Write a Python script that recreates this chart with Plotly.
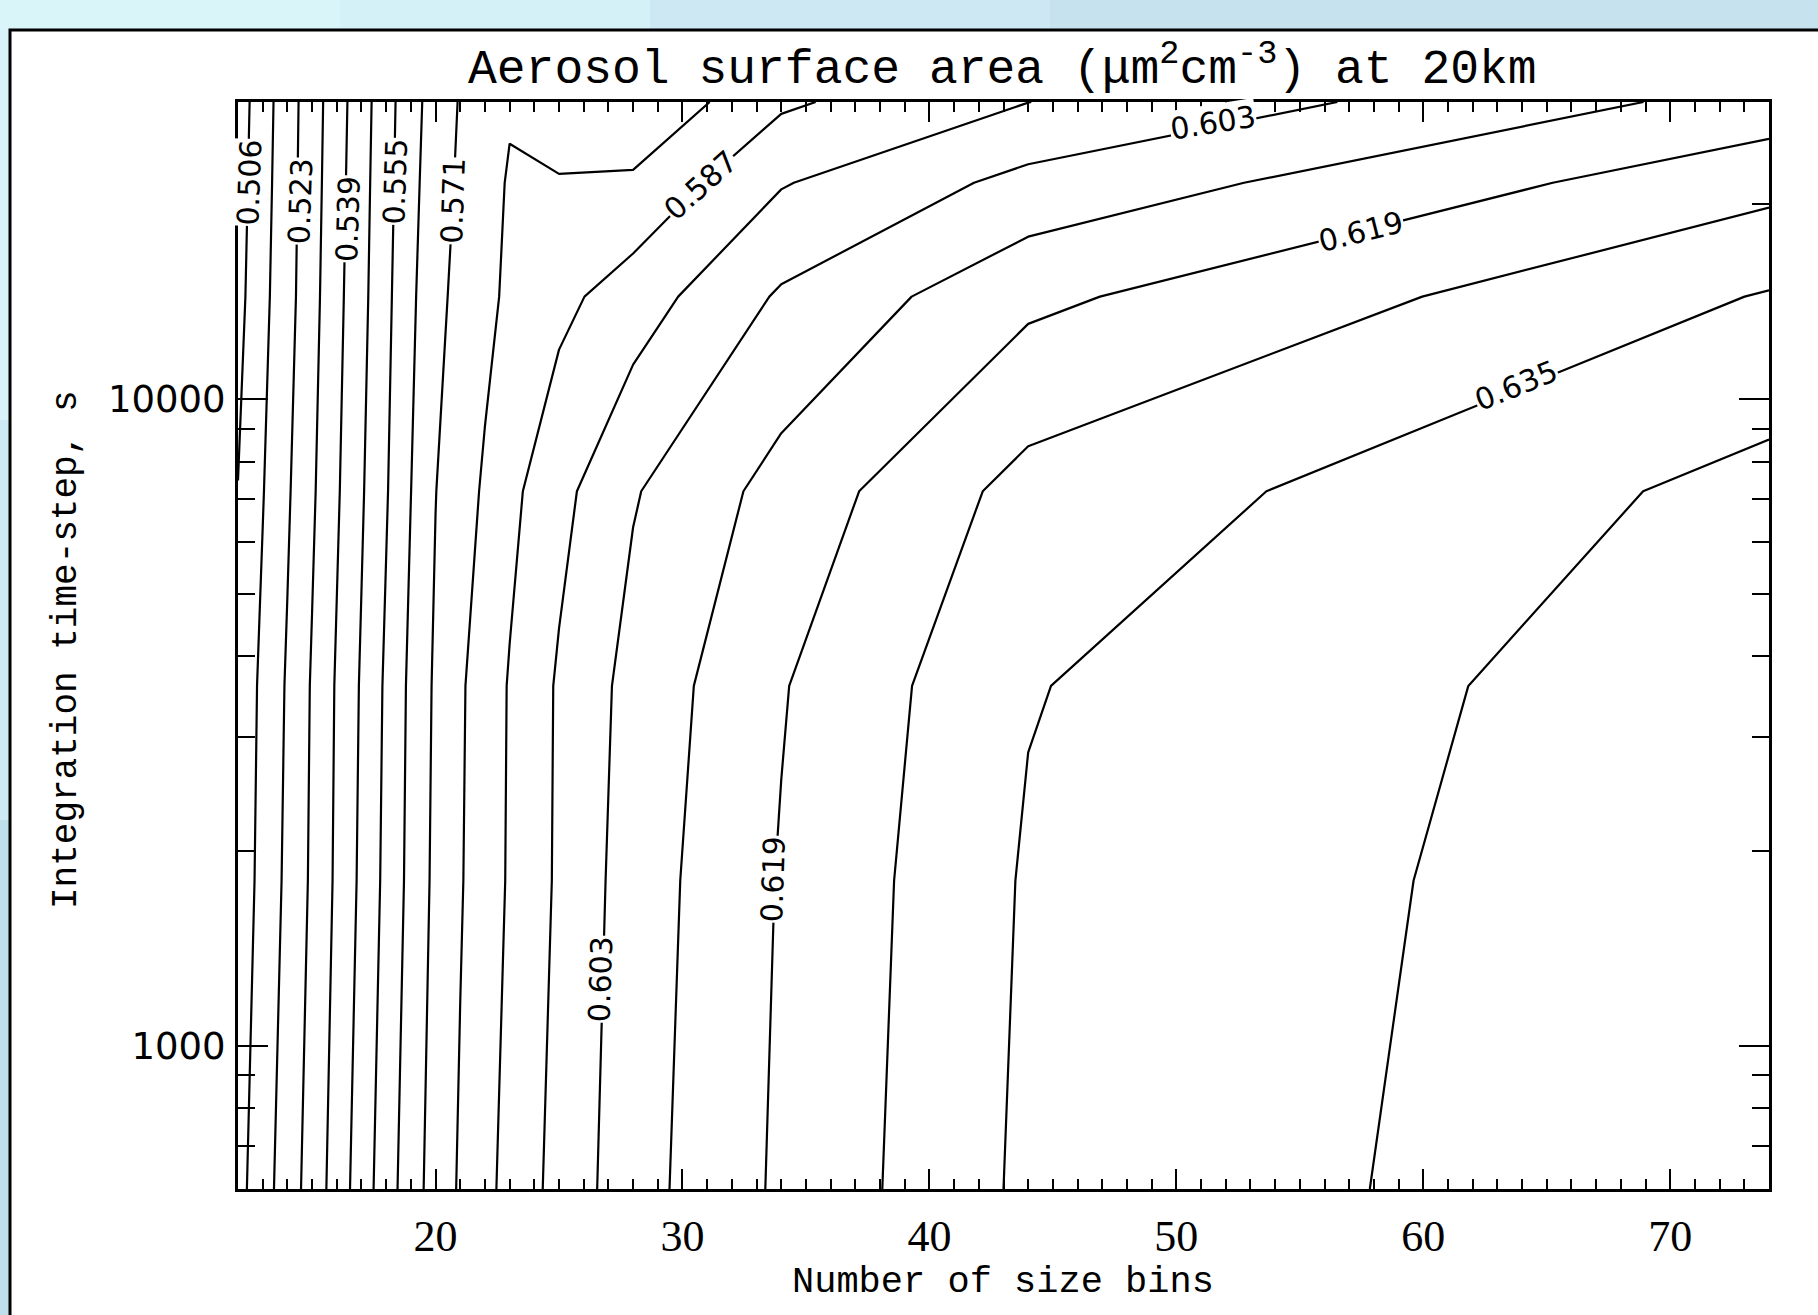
import math
import plotly.graph_objects as go

# ---- data ----
bins = [12, 13, 14, 15, 16, 17, 18, 19, 20, 21, 22, 23, 25, 28, 34, 44, 74]
timesteps = [600, 1800, 3600, 7200, 14400, 21600, 28800]
area_600 = [0.51189, 0.51928, 0.52655, 0.53397, 0.54215, 0.55073, 0.55903, 0.56733, 0.57422, 0.57989, 0.58487, 0.58946, 0.59780, 0.60809, 0.62054, 0.63694, 0.65084]
area_1800 = [0.50964, 0.51697, 0.52433, 0.53195, 0.54009, 0.54838, 0.55685, 0.56516, 0.57274, 0.57834, 0.58317, 0.58783, 0.59628, 0.60713, 0.61976, 0.63615, 0.64999]
area_3600 = [0.50900, 0.51620, 0.52347, 0.53138, 0.53951, 0.54760, 0.55609, 0.56454, 0.57212, 0.57791, 0.58285, 0.58757, 0.59604, 0.60592, 0.61868, 0.63486, 0.64915]
area_7200 = [0.50665, 0.51417, 0.52157, 0.52945, 0.53770, 0.54586, 0.55414, 0.56277, 0.57074, 0.57583, 0.57992, 0.58492, 0.59269, 0.60246, 0.61413, 0.63021, 0.64604]
area_14400 = [0.50396, 0.51243, 0.51976, 0.52794, 0.53640, 0.54444, 0.55283, 0.56133, 0.56844, 0.57346, 0.57702, 0.58037, 0.58487, 0.59107, 0.60415, 0.61741, 0.63591]
area_21600 = [0.50307, 0.51164, 0.51929, 0.52733, 0.53569, 0.54382, 0.55212, 0.56050, 0.56708, 0.57221, 0.57596, 0.57970, 0.57935, 0.58032, 0.59449, 0.60552, 0.62484]
area_28800 = [0.50243, 0.51109, 0.51898, 0.52697, 0.53519, 0.54334, 0.55164, 0.55994, 0.56625, 0.57146, 0.57332, 0.57815, 0.57573, 0.57171, 0.58571, 0.59497, 0.61445]

level_start = 0.5065
level_step = 0.00805
level_end = 0.64335

label_text = ["0.506", "0.523", "0.539", "0.555", "0.571", "0.587", "0.603", "0.619", "0.635", "0.603", "0.619"]
label_bins = [12.47, 14.53, 16.44, 18.38, 20.69, 30.73, 51.5, 57.49, 63.76, 26.68, 33.68]
label_step = [21600, 20270, 18970, 21670, 20230, 21380, 26760, 18150, 10510, 1265, 1811]
label_angle = [-88, -88, -88, -88, -88, -42, -9, -14, -22, -88, -88]

y_major = [1000, 10000]
y_minor = [700, 800, 900, 2000, 3000, 4000, 5000, 6000, 7000, 8000, 9000, 20000]

z = [area_600, area_1800, area_3600, area_7200, area_14400, area_21600, area_28800]

W, H = 1818, 1315
ML, MR, MT, MB = 238, 49, 102, 126
PW, PH = W - ML - MR, H - MT - MB


def px(xp):
    return (xp - ML) / PW


def py(yp):
    return (H - MB - yp) / PH


fig = go.Figure()
fig.add_trace(go.Contour(
    x=bins, y=timesteps, z=z,
    autocontour=False,
    contours=dict(start=level_start, end=level_end, size=level_step,
                  coloring="none", showlabels=False),
    line=dict(color="black", width=2.2, smoothing=0),
    showscale=False, hoverinfo="skip",
))

annotations = []
for t, xb, st, ang in zip(label_text, label_bins, label_step, label_angle):
    annotations.append(dict(
        x=xb, y=math.log10(st), xref="x", yref="y", text=t, showarrow=False,
        textangle=ang, font=dict(family="DejaVu Sans", size=30, color="black"),
        bgcolor="white", borderpad=0, xanchor="center", yanchor="middle"))

serif = "Liberation Mono"
annotations += [
    dict(x=px(1002), y=py(66), xref="paper", yref="paper", showarrow=False,
         text="Aerosol surface area (\u03bcm<sup>2</sup>cm<sup>-3</sup>) at 20km",
         font=dict(family=serif, size=48, color="black"), xanchor="center", yanchor="middle"),
    dict(x=px(1003), y=py(1282), xref="paper", yref="paper", showarrow=False,
         text="Number of size bins", font=dict(family=serif, size=37, color="black"),
         xanchor="center", yanchor="middle"),
    dict(x=px(66), y=py(650), xref="paper", yref="paper", showarrow=False,
         text="Integration time-step, s", textangle=-90,
         font=dict(family=serif, size=36, color="black"), xanchor="center", yanchor="middle"),
]

# page background: light blue blocks with a white framed panel
bg_blocks = [
    (0, 0, 340, 30, "#d9f5fa"),
    (340, 0, 650, 30, "#d5f1f8"),
    (650, 0, 1050, 30, "#cde8f3"),
    (1050, 0, 1818, 30, "#c5e2ee"),
    (0, 30, 10, 420, "#d7f3f9"),
    (0, 420, 10, 820, "#cdeaf4"),
    (0, 820, 10, 1315, "#bedeea"),
]
shapes = []
for x0, y0, x1, y1, c in bg_blocks:
    shapes.append(dict(type="rect", xref="paper", yref="paper", x0=px(x0), x1=px(x1),
                       y0=py(y1), y1=py(y0), fillcolor=c, line=dict(width=0), layer="below"))
shapes.append(dict(type="rect", xref="paper", yref="paper", x0=px(10), x1=px(1900), y0=py(1400), y1=py(30),
                   fillcolor="white", line=dict(color="black", width=3), layer="below"))

fig.update_layout(
    width=W, height=H, autosize=False,
    margin=dict(l=ML, r=MR, t=MT, b=MB, pad=0),
    paper_bgcolor="#cfe9f4", plot_bgcolor="white",
    showlegend=False,
    annotations=annotations, shapes=shapes,
    xaxis=dict(range=[12, 74], showgrid=False, zeroline=False,
               showline=True, linecolor="black", linewidth=3, mirror="ticks",
               ticks="inside", ticklen=20, tickwidth=2, tickcolor="black",
               tick0=0, dtick=10, ticklabelstandoff=6,
               tickfont=dict(family="Liberation Serif", size=44, color="black"),
               minor=dict(ticks="inside", ticklen=10, tickwidth=2, tickcolor="black", dtick=1, showgrid=False)),
    yaxis=dict(type="log", range=[math.log10(600), math.log10(28800)], showgrid=False, zeroline=False,
               showline=True, linecolor="black", linewidth=3, mirror="ticks",
               ticks="inside", ticklen=30, tickwidth=2, tickcolor="black",
               tickvals=y_major, ticktext=[str(v) for v in y_major], ticklabelstandoff=2,
               tickfont=dict(family="DejaVu Sans", size=37, color="black"),
               minor=dict(ticks="inside", ticklen=17, tickwidth=2, tickcolor="black",
                          tickvals=y_minor, showgrid=False)),
)

fig.write_html("out.html")
